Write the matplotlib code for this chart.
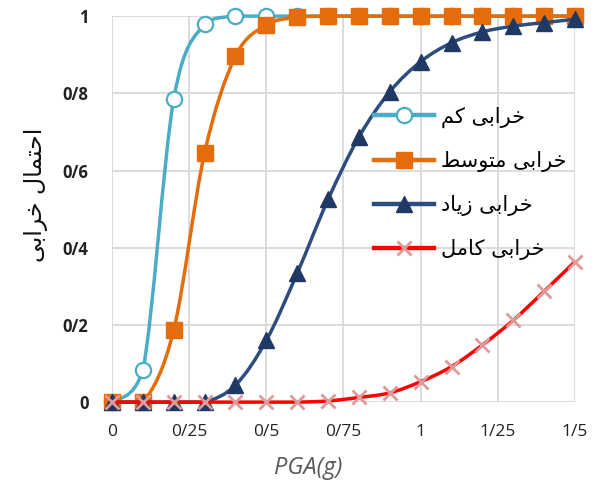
import matplotlib
matplotlib.use("Agg")
import matplotlib.pyplot as plt
from matplotlib.path import Path
from matplotlib.patches import PathPatch
from matplotlib.lines import Line2D
import numpy as np

# PGA steps (g)
pga = [0.0, 0.1, 0.2, 0.3, 0.4, 0.5, 0.6, 0.7, 0.8, 0.9, 1.0, 1.1, 1.2, 1.3, 1.4, 1.5]

# probability of damage for each state
p_slight = [0, 0.083, 0.785, 0.98, 1, 1, 1, 1, 1, 1, 1, 1, 1, 1, 1, 1]
p_moderate = [0, 0, 0.187, 0.646, 0.896, 0.977, 0.997, 1, 1, 1, 1, 1, 1, 1, 1, 1]
p_extensive = [0, 0, 0, 0, 0.044, 0.16, 0.334, 0.525, 0.687, 0.804, 0.882,
               0.931, 0.959, 0.974, 0.983, 0.992]
p_complete = [0, 0, 0, 0, 0, 0, 0, 0.003, 0.012, 0.024, 0.053, 0.092,
              0.148, 0.212, 0.287, 0.364]

labels = ["خرابی کم", "خرابی متوسط", "خرابی زیاد", "خرابی کامل"]
ylabel = "احتمال خرابی"
xticks = [0, 0.25, 0.5, 0.75, 1, 1.25, 1.5]
xticklabels = ["0", "0/25", "0/5", "0/75", "1", "1/25", "1/5"]
yticks = [0, 0.2, 0.4, 0.6, 0.8, 1]
yticklabels = ["0", "0/2", "0/4", "0/6", "0/8", "1"]

# matplotlib has no arabic shaping, so pick presentation forms by hand
# (isolated, final, initial, medial); two-form letters don't join forward
FORMS = {
    "ا": ("\uFE8D", "\uFE8E"),
    "ب": ("\uFE8F", "\uFE90", "\uFE91", "\uFE92"),
    "ت": ("\uFE95", "\uFE96", "\uFE97", "\uFE98"),
    "ح": ("\uFEA1", "\uFEA2", "\uFEA3", "\uFEA4"),
    "خ": ("\uFEA5", "\uFEA6", "\uFEA7", "\uFEA8"),
    "د": ("\uFEA9", "\uFEAA"),
    "ر": ("\uFEAD", "\uFEAE"),
    "ز": ("\uFEAF", "\uFEB0"),
    "س": ("\uFEB1", "\uFEB2", "\uFEB3", "\uFEB4"),
    "ط": ("\uFEC1", "\uFEC2", "\uFEC3", "\uFEC4"),
    "ک": ("\uFB8E", "\uFB8F", "\uFB90", "\uFB91"),
    "ل": ("\uFEDD", "\uFEDE", "\uFEDF", "\uFEE0"),
    "م": ("\uFEE1", "\uFEE2", "\uFEE3", "\uFEE4"),
    "و": ("\uFEED", "\uFEEE"),
    "ی": ("\uFBFC", "\uFBFD", "\uFBFE", "\uFBFF"),
}


def shape(text):
    out = []
    for i, ch in enumerate(text):
        if ch not in FORMS:
            out.append(ch)
            continue
        f = FORMS[ch]
        prev = text[i - 1] if i > 0 else ""
        nxt = text[i + 1] if i + 1 < len(text) else ""
        join_prev = prev in FORMS and len(FORMS[prev]) == 4
        join_next = len(f) == 4 and nxt in FORMS
        if join_prev and join_next:
            out.append(f[3])
        elif join_prev:
            out.append(f[1])
        elif join_next:
            out.append(f[2])
        else:
            out.append(f[0])
    return "".join(reversed(out))


def smooth_path(x, y):
    # catmull-rom through the points as cubic beziers; control points are
    # clamped to each segment's y-range so flat runs don't over/undershoot
    pts = np.column_stack([x, y]).astype(float)
    ext = np.vstack([pts[0], pts, pts[-1]])
    verts = [pts[0]]
    codes = [Path.MOVETO]
    for i in range(len(pts) - 1):
        p0, p1, p2, p3 = ext[i], ext[i + 1], ext[i + 2], ext[i + 3]
        c1 = p1 + (p2 - p0) / 6.0
        c2 = p2 - (p3 - p1) / 6.0
        lo, hi = min(p1[1], p2[1]), max(p1[1], p2[1])
        c1[1] = np.clip(c1[1], lo, hi)
        c2[1] = np.clip(c2[1], lo, hi)
        verts += [c1, c2, p2]
        codes += [Path.CURVE4] * 3
    return Path(verts, codes)


plt.rcParams["font.family"] = ["Open Sans", "DejaVu Sans"]
fig = plt.figure(figsize=(6.0, 4.88), dpi=100)
ax = fig.add_axes([0.1867, 0.176, 0.7716, 0.791])

series = [
    (p_slight, "#4bacc6", dict(marker="o", markersize=11, markerfacecolor="white",
                               markeredgecolor="#4bacc6", markeredgewidth=1.6)),
    (p_moderate, "#e46c0a", dict(marker="s", markersize=11.5, markerfacecolor="#e46c0a",
                                 markeredgecolor="#e46c0a", markeredgewidth=1)),
    (p_extensive, "#2c4d7e", dict(marker="^", markersize=12, markerfacecolor="#1f3864",
                                  markeredgecolor="#1f3864", markeredgewidth=1)),
    (p_complete, "#ff0000", dict(marker="x", markersize=9.5, markeredgecolor="#e0999a",
                                 markeredgewidth=2)),
]

handles = []
for k, (vals, col, mk) in enumerate(series):
    patch = PathPatch(smooth_path(pga, vals), facecolor="none", edgecolor=col,
                      lw=2.5, transform=ax.transData, clip_on=False, zorder=3 + 2 * k)
    ax.add_patch(patch)
    ax.plot(pga, vals, linestyle="none", clip_on=False, zorder=4 + 2 * k, **mk)
    handles.append(Line2D([], [], color=col, lw=3.2, **mk))

ax.set_xlim(0, 1.5)
ax.set_ylim(0, 1)
ax.set_xticks(xticks)
ax.set_xticklabels(xticklabels, fontsize=12.5, color="#222222")
ax.set_yticks(yticks)
ax.set_yticklabels(yticklabels, fontsize=12, fontweight="bold", color="#222222")
ax.tick_params(axis="both", length=0)
ax.tick_params(axis="x", pad=16)
ax.tick_params(axis="y", pad=17)
for s in ax.spines.values():
    s.set_visible(False)
ax.grid(True, color="#d9d9d9", lw=1.3)
ax.set_axisbelow(True)

fig.text(0.513, 0.041, "PGA(g)", fontsize=17, style="italic", color="#595959",
         ha="center", va="center")
fig.text(0.06, 0.60, shape(ylabel), rotation=90, ha="center", va="center",
         fontsize=17, family=["DejaVu Sans"], color="#111111")

leg = fig.legend(handles, [shape(t) for t in labels], loc="upper left",
                 bbox_to_anchor=(0.592, 0.82), frameon=False, handlelength=2.9,
                 handletextpad=0.34, labelspacing=1.11,
                 prop={"family": ["DejaVu Sans"], "size": 15})

fig.savefig("out.png", dpi=100)
